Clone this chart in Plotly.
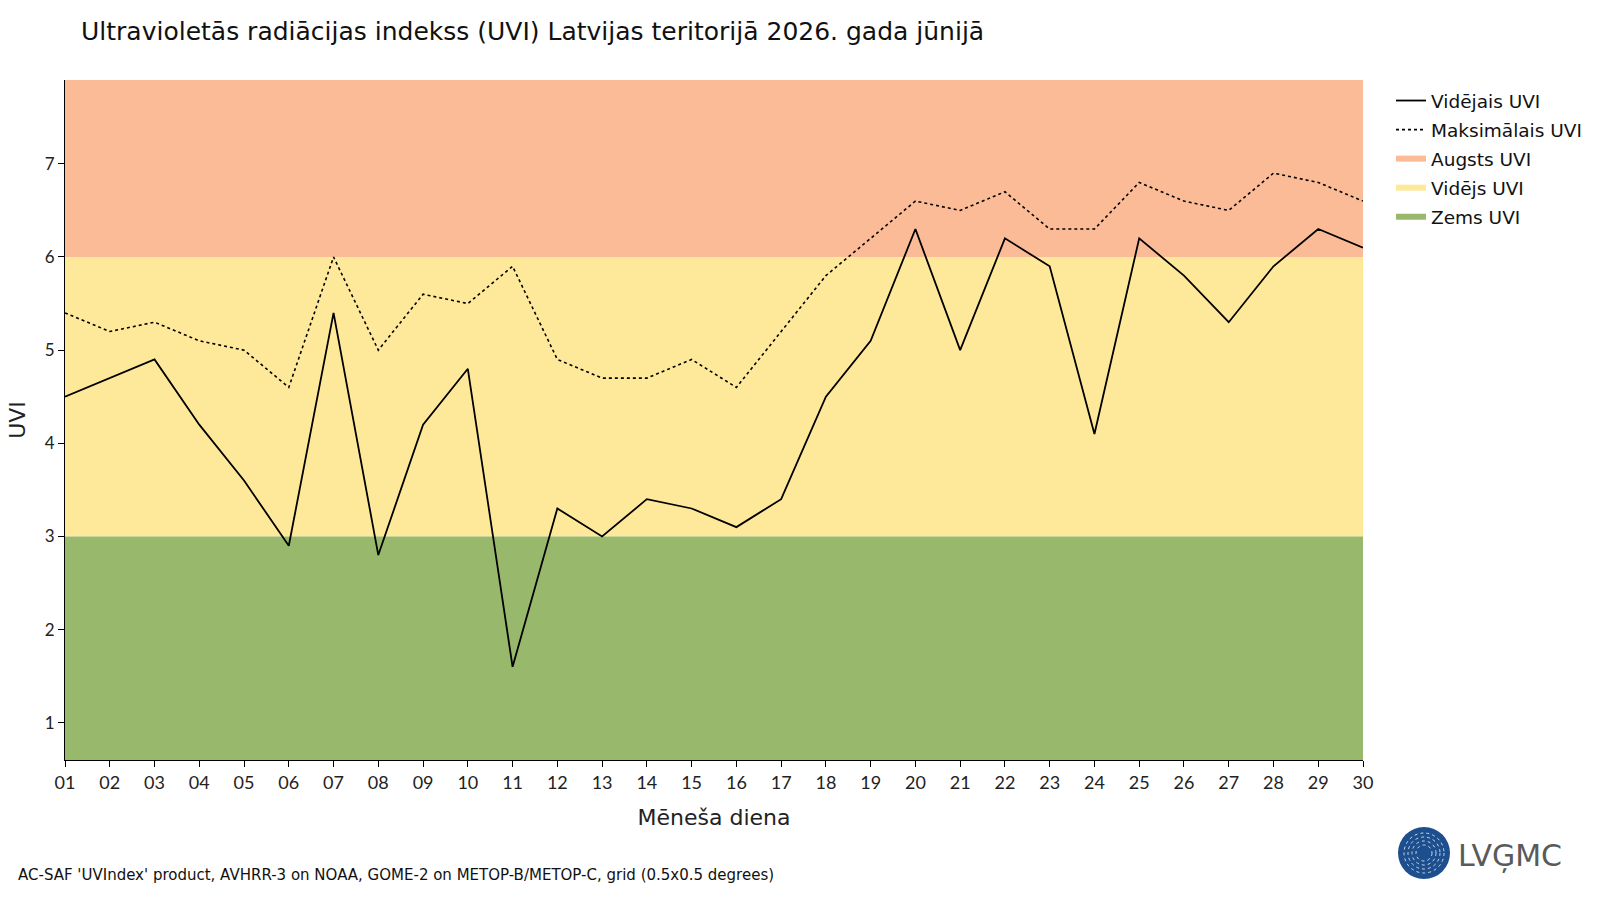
import plotly.graph_objects as go

days = [f"{d:02d}" for d in range(1, 31)]
day_num = list(range(1, 31))
mean_uvi = [4.5, 4.7, 4.9, 4.2, 3.6, 2.9, 5.4, 2.8, 4.2, 4.8, 1.6, 3.3, 3.0, 3.4, 3.3,
            3.1, 3.4, 4.5, 5.1, 6.3, 5.0, 6.2, 5.9, 4.1, 6.2, 5.8, 5.3, 5.9, 6.3, 6.1]
max_uvi = [5.4, 5.2, 5.3, 5.1, 5.0, 4.6, 6.0, 5.0, 5.6, 5.5, 5.9, 4.9, 4.7, 4.7, 4.9,
           4.6, 5.2, 5.8, 6.2, 6.6, 6.5, 6.7, 6.3, 6.3, 6.8, 6.6, 6.5, 6.9, 6.8, 6.6]
bands = [("Augsts UVI", 6, 7.9, "#FBBB96"), ("Vidējs UVI", 3, 6, "#FEE99A"), ("Zems UVI", 0.6, 3, "#98B86C")]
y_range = [0.6, 7.9]

FONT = "'DejaVu Sans', sans-serif"
TICKFONT = "Lato, sans-serif"

fig = go.Figure()
fig.add_trace(go.Scatter(x=day_num, y=mean_uvi, mode="lines", name="Vidējais UVI", legendgroup="a",
                         line=dict(color="black", width=1.8)))
fig.add_trace(go.Scatter(x=day_num, y=max_uvi, mode="lines", name="Maksimālais UVI", legendgroup="b",
                         line=dict(color="black", width=1.6, dash="dot")))
for i, (name, lo, hi, col) in enumerate(bands):
    fig.add_trace(go.Scatter(x=[None], y=[None], mode="lines", name=name, legendgroup=f"band{i}",
                             line=dict(color=col, width=6)))
    fig.add_shape(type="rect", xref="x", yref="y", x0=1, x1=30, y0=lo, y1=hi,
                  fillcolor=col, line=dict(width=0), layer="below")

fig.update_layout(
    width=1600, height=900,
    margin=dict(l=65, r=237, t=80, b=140),
    paper_bgcolor="white", plot_bgcolor="white",
    font=dict(family=FONT, color="#222222", size=17),
    title=dict(text="Ultravioletās radiācijas indekss (UVI) Latvijas teritorijā 2026. gada jūnijā",
               x=81 / 1600, xanchor="left", y=1 - 31 / 900, yanchor="middle",
               font=dict(size=25, color="#111111")),
    showlegend=True,
    legend=dict(x=1.0 + 28 / 1298, xanchor="left", y=1.0 - 2 / 680, yanchor="top",
                font=dict(size=18.5, color="#111111"), tracegroupgap=2, itemwidth=30,
                bgcolor="rgba(0,0,0,0)"),
    xaxis=dict(range=[1, 30], tickmode="array", tickvals=day_num, ticktext=days,
               showgrid=False, zeroline=False, showline=True, linecolor="black", linewidth=1,
               ticks="outside", ticklen=6, tickcolor="black",
               title=dict(text="Mēneša diena", font=dict(size=22), standoff=18),
               tickfont=dict(size=18, family=TICKFONT)),
    yaxis=dict(range=y_range, tickvals=[1, 2, 3, 4, 5, 6, 7],
               showgrid=False, zeroline=False, showline=True, linecolor="black", linewidth=1,
               ticks="outside", ticklen=6, tickcolor="black",
               title=dict(text="UVI", font=dict(size=22), standoff=13),
               tickfont=dict(size=17, family=TICKFONT)),
)

def px_x(px):
    return (px - 65) / 1298

def px_y(py):
    return (760 - py) / 680

fig.add_annotation(text="AC-SAF 'UVIndex' product, AVHRR-3 on NOAA, GOME-2 on METOP-B/METOP-C, grid (0.5x0.5 degrees)",
                   xref="paper", yref="paper", x=px_x(16), xanchor="left",
                   y=px_y(875), yanchor="middle", showarrow=False,
                   font=dict(size=15, color="#111111"))

# logo
cx, cy, r = 1424, 853, 26
fig.add_shape(type="circle", xref="paper", yref="paper",
              x0=px_x(cx - r), x1=px_x(cx + r), y0=px_y(cy + r), y1=px_y(cy - r),
              fillcolor="#1D4F8F", line=dict(width=0), layer="above")
for rr in [20, 16, 12, 8]:
    fig.add_shape(type="circle", xref="paper", yref="paper",
                  x0=px_x(cx - rr), x1=px_x(cx + rr), y0=px_y(cy + rr), y1=px_y(cy - rr),
                  line=dict(color="rgba(255,255,255,0.75)", width=1, dash="dot"), layer="above")
fig.add_annotation(text="LVĢMC", xref="paper", yref="paper", x=px_x(1456), xanchor="left",
                   y=px_y(855), yanchor="middle", showarrow=False,
                   font=dict(size=30, color="#5a5a5a", family="'DejaVu Sans', sans-serif"))

fig.write_html("out.html")
